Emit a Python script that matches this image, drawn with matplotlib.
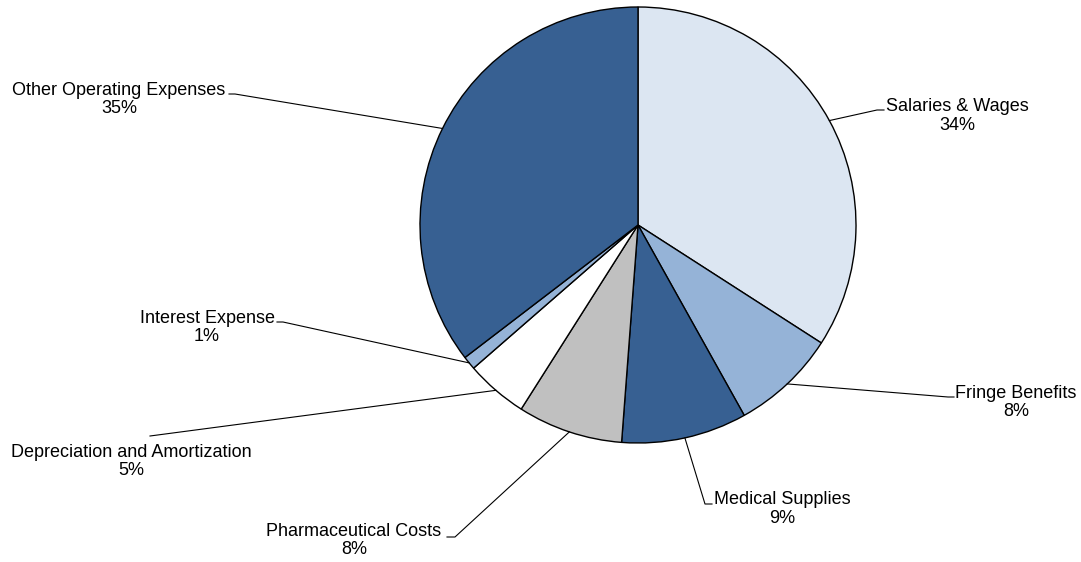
import numpy as np
import matplotlib.pyplot as plt

# Expense shares (%), clockwise from 12 o'clock
categories = [
    "Salaries & Wages",
    "Fringe Benefits",
    "Medical Supplies",
    "Pharmaceutical Costs",
    "Depreciation and Amortization",
    "Interest Expense",
    "Other Operating Expenses",
]
shares = [34.1, 7.8, 9.3, 7.8, 4.6, 1.0, 35.4]
colors = ["#DCE6F2", "#95B3D7", "#376092", "#C0C0C0", "#FFFFFF", "#95B3D7", "#376092"]

W, H = 1081, 562


def px(x, y):
    # pixel coords (origin top-left) -> data coords
    return x, H - y


# label layout: text centre, elbow point, end of the short horizontal tick
label_layout = [
    ((957, 116), (877, 110), (884, 110)),
    ((1016, 402.5), (948, 397), (954, 397)),
    ((782, 509), (705, 504), (712, 504)),
    ((354, 540.5), (455, 537), (447, 537)),
    ((131, 461.5), (150, 436), (150, 436)),
    ((207, 327.5), (283, 322), (277, 322)),
    ((119, 99.5), (235, 94), (229, 94)),
]

fig = plt.figure(figsize=(W / 100, H / 100), dpi=100)
ax = fig.add_axes([0, 0, 1, 1])

cx, cy = px(638, 225)
radius = 218
wedges, _ = ax.pie(
    shares,
    colors=colors,
    startangle=90,
    counterclock=False,
    center=(cx, cy),
    radius=radius,
    wedgeprops=dict(edgecolor="black", linewidth=1.0),
    frame=True,
)
ax.set_xlim(0, W)
ax.set_ylim(0, H)
ax.set_aspect("equal")
ax.axis("off")

for w, name, val, (txt, elbow, end) in zip(wedges, categories, shares, label_layout):
    mid = np.deg2rad((w.theta1 + w.theta2) / 2)
    ax_x = cx + radius * np.cos(mid)
    ax_y = cy + radius * np.sin(mid)
    ex, ey = px(*elbow)
    tx, ty = px(*end)
    ax.plot([ax_x, ex, tx], [ax_y, ey, ty], color="black", lw=0.8, zorder=5)
    lx, ly = px(*txt)
    ax.text(lx, ly, f"{name}\n{val:.0f}%", ha="center", va="center",
            multialignment="center", fontsize=13, family="Liberation Sans",
            linespacing=1.15)

fig.savefig("out.png", dpi=100)
